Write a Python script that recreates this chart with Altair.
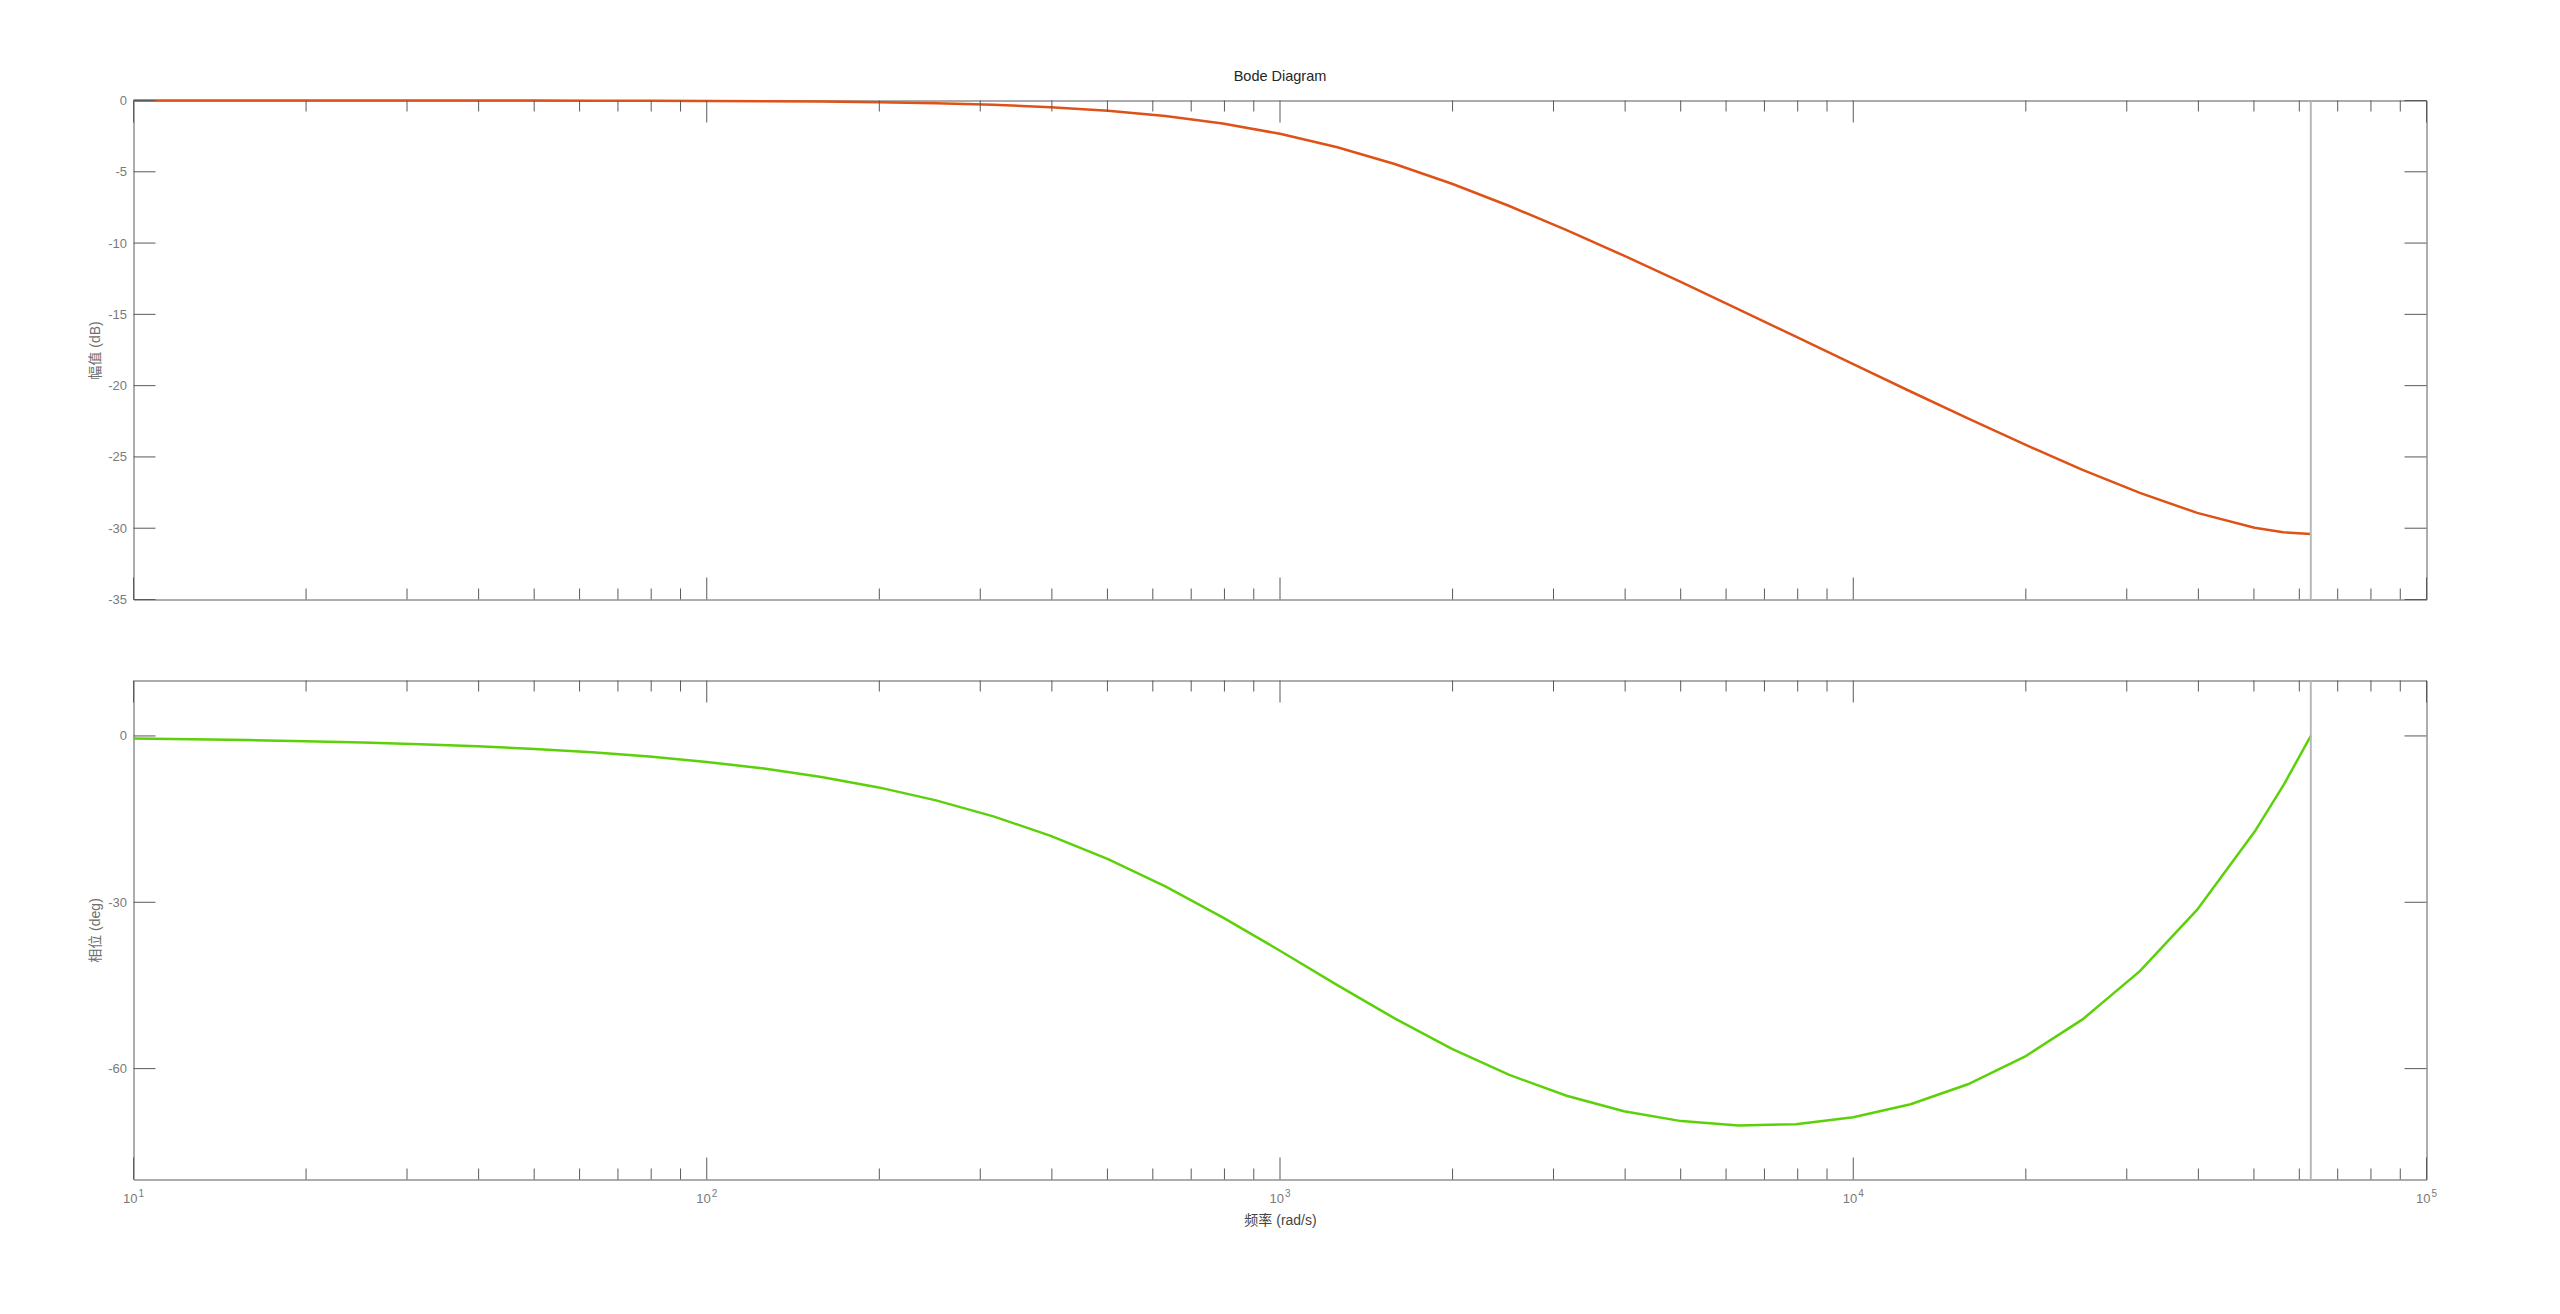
import altair as alt
import pandas as pd

# ---- data (frequency in rad/s) ----
FREQ = [10, 12.589, 15.849, 19.953, 25.119, 31.623, 39.811, 50.119, 63.096, 79.433,
        100, 125.89, 158.49, 199.53, 251.19, 316.23, 398.11, 501.19, 630.96, 794.33,
        1000, 1258.9, 1584.9, 1995.3, 2511.9, 3162.3, 3981.1, 5011.9, 6309.6, 7943.3,
        10000, 12589, 15849, 19953, 25119, 31623, 39811, 50119, 56234, 62832]
MAG_DB = [-0.0003, -0.0005, -0.0008, -0.0012, -0.0020, -0.0031, -0.0049, -0.0078, -0.0123, -0.0195,
          -0.0309, -0.0488, -0.0771, -0.1216, -0.1912, -0.2992, -0.4651, -0.7158, -1.0851, -1.6133,
          -2.3378, -3.2838, -4.4572, -5.8400, -7.3988, -9.0938, -10.8864, -12.7444, -14.6433, -16.5652,
          -18.4927, -20.4109, -22.3025, -24.1445, -25.9026, -27.5245, -28.9265, -29.9693, -30.284, -30.398]
PHASE_DEG = [-0.47, -0.59, -0.74, -0.94, -1.18, -1.48, -1.87, -2.35, -2.96, -3.72,
             -4.68, -5.89, -7.40, -9.28, -11.62, -14.50, -18.01, -22.22, -27.14, -32.71,
             -38.74, -44.94, -50.95, -56.43, -61.13, -64.90, -67.68, -69.47, -70.24, -70.03,
             -68.78, -66.42, -62.83, -57.81, -51.12, -42.43, -31.34, -17.30, -8.98, 0.0]
NYQUIST = [62832]

X_DOMAIN = [10, 100000]
MAG_DOMAIN = [-35, 0]
PHASE_DOMAIN = [-80, 10]
MAJOR_X = [10, 100, 1000, 10000, 100000]
X_LABEL_BASE = ["10", "10", "10", "10", "10"]
X_LABEL_EXP = ["1", "2", "3", "4", "5"]
MINOR_MULT = [2, 3, 4, 5, 6, 7, 8, 9]
MINOR_BASE = [10, 100, 1000, 10000]
MINOR_X = [m * b for b in MINOR_BASE for m in MINOR_MULT]
MAG_TICKS = [0, -5, -10, -15, -20, -25, -30, -35]
PHASE_TICKS = [0, -30, -60]

# ---- style ----
W, H = 2293, 499
MAJ, MINL = 22, 11
FONT = "Liberation Sans, Arial, Noto Sans CJK SC"
BOX = "#5a5a5a"
LABEL = "#7a7a7a"
MAG_COLOR = "#DE5218"
PHASE_COLOR = "#5CD10A"
NYQ_COLOR = "#b8b8b8"

df = pd.DataFrame({"w": FREQ, "mag": MAG_DB, "phase": PHASE_DEG})
nyq_df = pd.DataFrame({"v": NYQUIST})
major_df = pd.DataFrame({"v": MAJOR_X, "base": X_LABEL_BASE, "exp": X_LABEL_EXP})
minor_df = pd.DataFrame({"v": MINOR_X})

xs = alt.Scale(type="log", domain=X_DOMAIN, nice=False)


def panel(ycol, ydomain, yticks, ytitle, color, xaxis, with_labels):
    ys = alt.Scale(domain=ydomain, nice=False, zero=False)
    yaxis = alt.Axis(values=yticks, ticks=False, domain=False, grid=False,
                     labelExpr="'' + datum.value",
                     labelPadding=7, labelFontSize=13, labelColor=LABEL, labelFont=FONT,
                     minExtent=27, maxExtent=27, title=ytitle, titlePadding=4,
                     titleFontSize=14, titleColor="#707070", titleFont=FONT,
                     titleFontWeight="normal")
    ytick_df = pd.DataFrame({"v": yticks})

    def X(field):
        return alt.X(field, scale=xs, axis=xaxis)

    def Y(field):
        return alt.Y(field, scale=ys, axis=yaxis)

    layers = []
    layers.append(alt.Chart(df).mark_line(color=color, strokeWidth=2.5).encode(
        x=X("w:Q"), y=Y(f"{ycol}:Q")))
    layers.append(alt.Chart(nyq_df).mark_rule(color=NYQ_COLOR, strokeWidth=2).encode(
        x=X("v:Q"), y=alt.value(0), y2=alt.value(H)))
    # inward x ticks (top and bottom)
    for src, ln in ((major_df, MAJ), (minor_df, MINL)):
        layers.append(alt.Chart(src).mark_rule(color=BOX, strokeWidth=1).encode(
            x=X("v:Q"), y=alt.value(0), y2=alt.value(ln)))
        layers.append(alt.Chart(src).mark_rule(color=BOX, strokeWidth=1).encode(
            x=X("v:Q"), y=alt.value(H), y2=alt.value(H - ln)))
    # inward y ticks (left and right)
    layers.append(alt.Chart(ytick_df).mark_rule(color=BOX, strokeWidth=1).encode(
        y=Y("v:Q"), x=alt.value(0), x2=alt.value(MAJ)))
    layers.append(alt.Chart(ytick_df).mark_rule(color=BOX, strokeWidth=1).encode(
        y=Y("v:Q"), x=alt.value(W - MAJ), x2=alt.value(W)))
    if with_labels:
        layers.append(alt.Chart(major_df).mark_text(
            align="right", baseline="alphabetic", dx=4, fontSize=13, font=FONT, color=LABEL).encode(
            x=X("v:Q"), y=alt.value(H + 23), text="base:N"))
        layers.append(alt.Chart(major_df).mark_text(
            align="left", baseline="alphabetic", dx=5, fontSize=10, font=FONT, color=LABEL).encode(
            x=X("v:Q"), y=alt.value(H + 17), text="exp:N"))
    return alt.layer(*layers).properties(width=W, height=H)


top = panel("mag", MAG_DOMAIN, MAG_TICKS, "幅值 (dB)", MAG_COLOR, None, False).properties(
    title=alt.TitleParams("Bode Diagram", fontSize=14.5, font=FONT, color="#262626",
                          fontWeight="normal", offset=10, frame="group", anchor="middle"))

bottom_xaxis = alt.Axis(labels=False, ticks=False, domain=False, grid=False,
                        title="频率 (rad/s)", titlePadding=34, titleFontSize=14,
                        titleColor="#454545", titleFont=FONT, titleFontWeight="normal")
bottom = panel("phase", PHASE_DOMAIN, PHASE_TICKS, "相位 (deg)", PHASE_COLOR, bottom_xaxis, True)

chart = alt.vconcat(top, bottom, spacing=71).properties(
    padding={"left": 79.5, "top": 60.5, "right": 20, "bottom": 20}
).configure(font=FONT).configure_view(stroke=BOX, strokeWidth=1)

chart.save("out.html", embed_options={"renderer": "svg", "actions": False})
